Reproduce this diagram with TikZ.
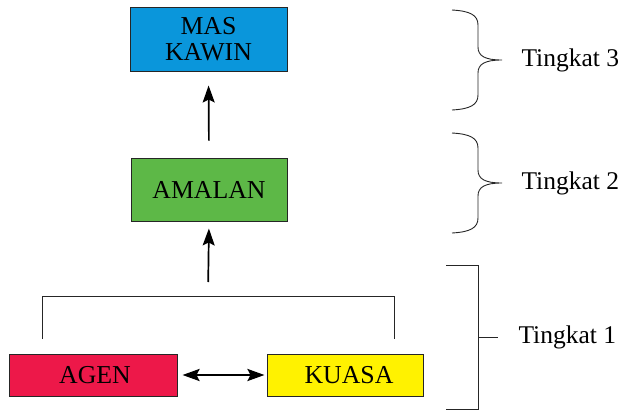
\documentclass[tikz,border=0pt]{standalone}
\usepackage{fontspec}
\setmainfont{Liberation Serif}
\usetikzlibrary{arrows.meta}
\definecolor{cblue}{HTML}{0A96DB}
\definecolor{cgreen}{HTML}{5DB847}
\definecolor{cred}{HTML}{ED1849}
\definecolor{cyellow}{HTML}{FFF200}
\begin{document}
\begin{tikzpicture}[x=1pt,y=-1pt,
  box/.style={draw=black!85,line width=1pt,inner sep=0pt,align=center,
    font=\fontsize{25.8}{26}\selectfont},
  conn/.style={line width=1.7pt,-{Stealth[length=17pt,width=12pt,inset=3pt]}},
  line/.style={line width=0.9pt,draw=black!85},
  lab/.style={anchor=west,font=\fontsize{25.5}{26}\selectfont}]
\useasboundingbox (0,0) rectangle (625,410);
\node[box,fill=cblue,minimum width=157pt,minimum height=64pt] (mas) at (208.5,39) {MAS\\KAWIN};
\node[box,fill=cgreen,minimum width=156pt,minimum height=63pt] (amal) at (209,189.5) {AMALAN};
\node[box,fill=cred,minimum width=168pt,minimum height=42pt] (agen) at (93,375) {\hspace*{4pt}AGEN};
\node[box,fill=cyellow,minimum width=156pt,minimum height=42pt] (kuasa) at (345,375) {\hspace*{8pt}KUASA};
% connectors
\draw[conn,shorten <=17pt,shorten >=14pt] (amal.north) -- (mas.south);
\coordinate (brk) at (208,296);
\coordinate (bl) at (42,339);
\coordinate (br) at (394,339);
\draw[conn,shorten <=14pt,shorten >=7pt] (brk) -- (amal.south);
\draw[line] (bl) -- (42,296) -- (394,296) -- (br);
\draw[line width=2.5pt,{Stealth[length=17pt,width=12pt,inset=3pt]}-{Stealth[length=17pt,width=12pt,inset=3pt]},shorten <=5pt,shorten >=2pt] (agen.east) -- (kuasa.west);
% braces
\draw[line] (452,10) .. controls (470,11) and (478,15) .. (478,25) -- (478,47) .. controls (478,56) and (485,60) .. (502,60)
  .. controls (485,60) and (478,64) .. (478,73) -- (478,95) .. controls (478,105) and (470,109) .. (452,110);
\draw[line] (452,133) .. controls (470,134) and (478,138) .. (478,148) -- (478,170) .. controls (478,179) and (485,183) .. (502,183)
  .. controls (485,183) and (478,187) .. (478,196) -- (478,218) .. controls (478,228) and (470,232) .. (452,233);
\draw[line] (446,265) -- (478,265) -- (478,409) -- (446,409);
\draw[line] (478,337) -- (498,337);
\node[lab] (t3) at (518,60) {Tingkat 3};
\node[lab] (t2) at (518,183) {Tingkat 2};
\node[lab] (t1) at (515,337) {Tingkat 1};
\end{tikzpicture}
\end{document}
